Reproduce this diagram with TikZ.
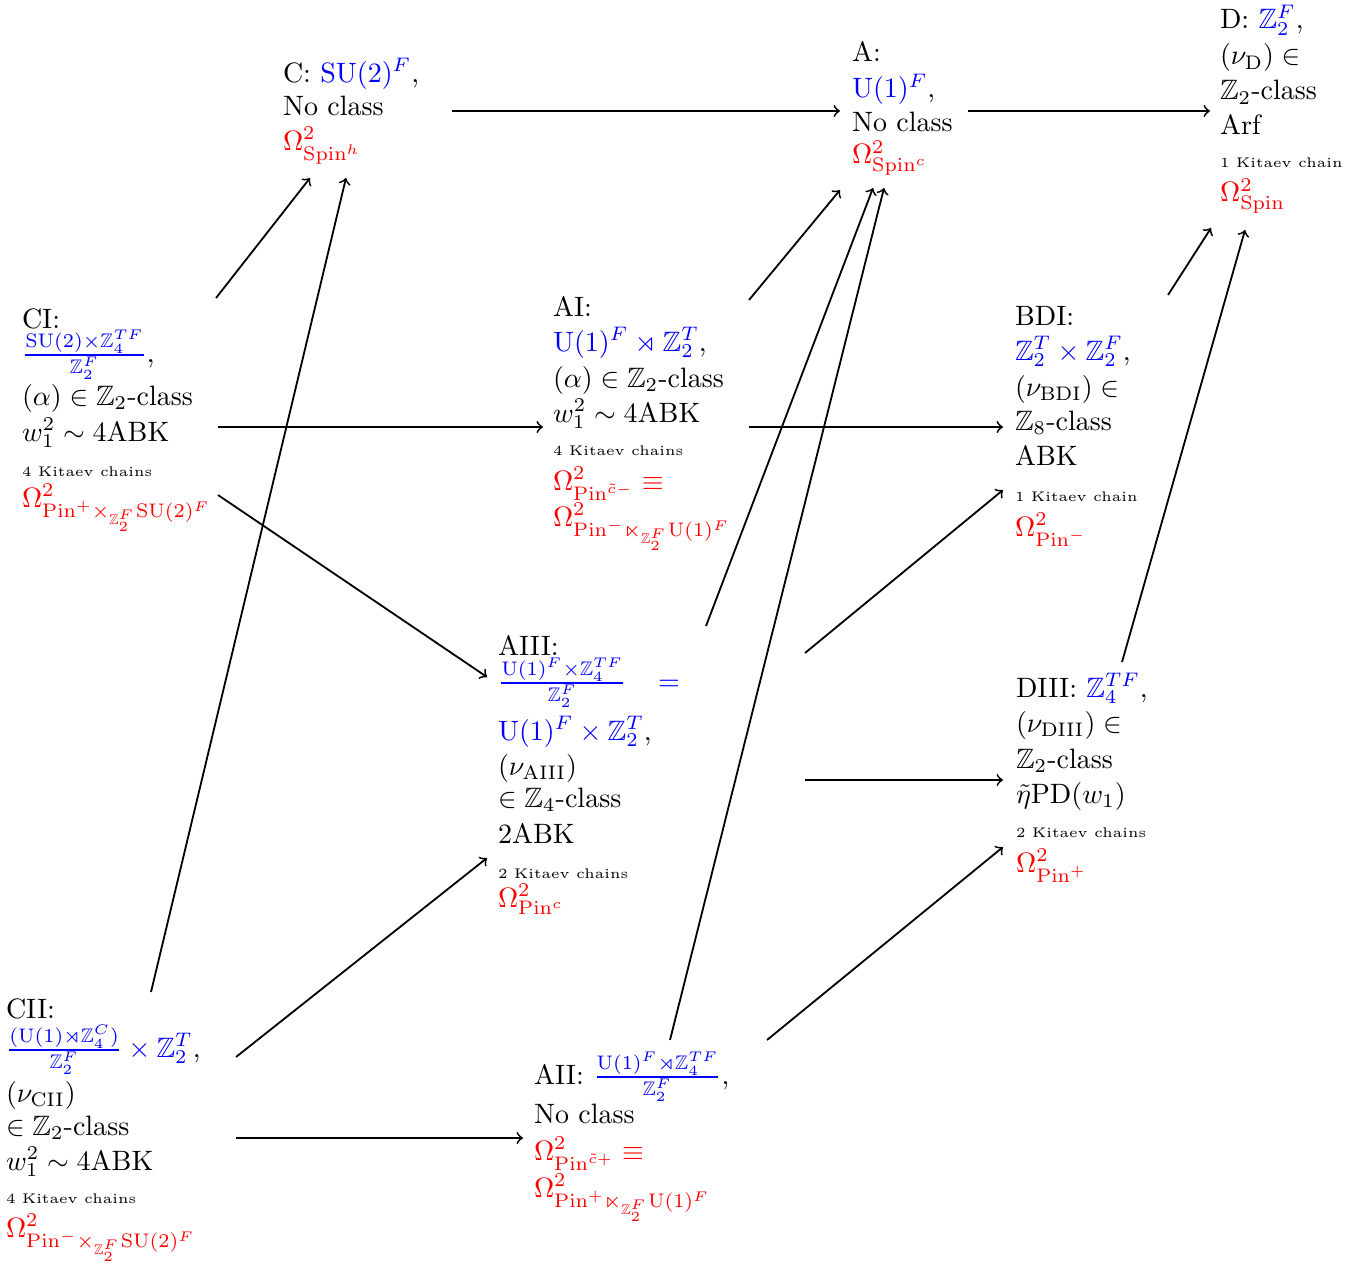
\documentclass[tikz,border=0pt]{standalone}
\usepackage{amsmath,amssymb}
\newdimen\px \px=0.357pt
\newcommand\cls[2]{\vtop{\baselineskip=0pt\lineskiplimit=-\maxdimen\lineskip=0pt\hbox{#1}#2}}
\newcommand\Ln[2]{\vskip#1\px\hbox{#2}}
\newcommand\bl[1]{\textcolor{blue}{#1}}
\newcommand\rd[1]{\textcolor{red}{#1}}
\tikzset{
  cls/.style={anchor=base west, inner sep=0pt, outer sep=0pt},
  arr/.style={->, line width=0.65pt}
}
\begin{document}
\begin{tikzpicture}[x=0.357pt, y=-0.357pt]
\useasboundingbox (0,0) rectangle (1368,1272);

% ---- class nodes ----
\node[cls] (C) at (283,82) {\cls{C: \bl{$\mathrm{SU}(2)^F$},}{%
  \Ln{34}{No class}%
  \Ln{34}{\rd{$\Omega^2_{\mathrm{Spin}^h}$}}}};

\node[cls] (A) at (852,62) {\cls{A:}{%
  \Ln{36}{\bl{$\mathrm{U}(1)^F$},}%
  \Ln{34}{No class}%
  \Ln{32}{\rd{$\Omega^2_{\mathrm{Spin}^c}$}}}};

\node[cls] (D) at (1220,29) {\cls{D: \bl{$\mathbb{Z}_2^F$},}{%
  \Ln{36}{$(\nu_{\mathrm{D}})\in$}%
  \Ln{35}{$\mathbb{Z}_2$-class}%
  \Ln{35}{Arf}%
  \Ln{33}{\tiny 1 Kitaev chain}%
  \Ln{34}{\rd{$\Omega^2_{\mathrm{Spin}}$}}}};

\node[cls] (CI) at (22,328) {\cls{CI:}{%
  \Ln{34}{\bl{$\frac{\mathrm{SU}(2)\times\mathbb{Z}_4^{TF}}{\mathbb{Z}_2^F}$},}%
  \Ln{43}{$(\alpha)\in\mathbb{Z}_2$-class}%
  \Ln{36}{$w_1^2\sim 4\mathrm{ABK}$}%
  \Ln{35}{\tiny 4 Kitaev chains}%
  \Ln{31}{\rd{$\Omega^2_{\mathrm{Pin}^+\times_{\mathbb{Z}_2^F}\mathrm{SU}(2)^F}$}}}};

\node[cls] (AI) at (553,316) {\cls{AI:}{%
  \Ln{35}{\bl{$\mathrm{U}(1)^F\rtimes\mathbb{Z}_2^T$},}%
  \Ln{36}{$(\alpha)\in\mathbb{Z}_2$-class}%
  \Ln{35}{$w_1^2\sim 4\mathrm{ABK}$}%
  \Ln{33}{\tiny 4 Kitaev chains}%
  \Ln{35}{\rd{$\Omega^2_{\mathrm{Pin}^{\tilde c-}}\equiv$}}%
  \Ln{36}{\rd{$\Omega^2_{\mathrm{Pin}^-\ltimes_{\mathbb{Z}_2^F}\mathrm{U}(1)^F}$}}}};

\node[cls] (BDI) at (1015,325) {\cls{BDI:}{%
  \Ln{35}{\bl{$\mathbb{Z}_2^T\times\mathbb{Z}_2^F$},}%
  \Ln{36}{$(\nu_{\mathrm{BDI}})\in$}%
  \Ln{34}{$\mathbb{Z}_8$-class}%
  \Ln{35}{ABK}%
  \Ln{36}{\tiny 1 Kitaev chain}%
  \Ln{35}{\rd{$\Omega^2_{\mathrm{Pin}^-}$}}}};

\node[cls] (AIII) at (498,655) {\cls{AIII:}{%
  \Ln{35}{\hbox to 182\px{\bl{$\frac{\mathrm{U}(1)^F\times\mathbb{Z}_4^{TF}}{\mathbb{Z}_2^F}$}\hfill\bl{$=$}}}%
  \Ln{50}{\bl{$\mathrm{U}(1)^F\times\mathbb{Z}_2^T$},}%
  \Ln{35}{$(\nu_{\mathrm{AIII}})$}%
  \Ln{32}{$\in\mathbb{Z}_4$-class}%
  \Ln{36}{2ABK}%
  \Ln{35}{\tiny 2 Kitaev chains}%
  \Ln{29}{\rd{$\Omega^2_{\mathrm{Pin}^c}$}}}};

\node[cls] (DIII) at (1016,697) {\cls{DIII: \bl{$\mathbb{Z}_4^{TF}$},}{%
  \Ln{35}{$(\nu_{\mathrm{DIII}})\in$}%
  \Ln{36}{$\mathbb{Z}_2$-class}%
  \Ln{35}{$\tilde\eta\mathrm{PD}(w_1)$}%
  \Ln{34}{\tiny 2 Kitaev chains}%
  \Ln{35}{\rd{$\Omega^2_{\mathrm{Pin}^+}$}}}};

\node[cls] (CII) at (6,1018) {\cls{CII:}{%
  \Ln{39}{\bl{$\frac{(\mathrm{U}(1)\rtimes\mathbb{Z}_4^C)}{\mathbb{Z}_2^F}\times\mathbb{Z}_2^T$},}%
  \Ln{45}{$(\nu_{\mathrm{CII}})$}%
  \Ln{33}{$\in\mathbb{Z}_2$-class}%
  \Ln{35}{$w_1^2\sim 4\mathrm{ABK}$}%
  \Ln{33}{\tiny 4 Kitaev chains}%
  \Ln{34}{\rd{$\Omega^2_{\mathrm{Pin}^-\times_{\mathbb{Z}_2^F}\mathrm{SU}(2)^F}$}}}};

\node[cls] (AII) at (534,1084) {\cls{AII: \bl{$\frac{\mathrm{U}(1)^F\rtimes\mathbb{Z}_4^{TF}}{\mathbb{Z}_2^F}$},}{%
  \Ln{39}{No class}%
  \Ln{37}{\rd{$\Omega^2_{\mathrm{Pin}^{\tilde c+}}\equiv$}}%
  \Ln{37}{\rd{$\Omega^2_{\mathrm{Pin}^+\ltimes_{\mathbb{Z}_2^F}\mathrm{U}(1)^F}$}}}};

% ---- connector end points ----
\coordinate (C-A-s) at (452,111);   \coordinate (C-A-t) at (840,111);
\coordinate (A-D-s) at (968,111);   \coordinate (A-D-t) at (1210,111);
\coordinate (CI-C-s) at (216,298);  \coordinate (CI-C-t) at (310,178);
\coordinate (CII-C-s) at (151,992); \coordinate (CII-C-t) at (346,178);
\coordinate (AI-A-s) at (749,300);  \coordinate (AI-A-t) at (840,190);
\coordinate (AIII-A-s) at (706,626); \coordinate (AIII-A-t) at (873,188);
\coordinate (AII-A-s) at (670,1040); \coordinate (AII-A-t) at (884,188);
\coordinate (BDI-D-s) at (1168,295); \coordinate (BDI-D-t) at (1211,228);
\coordinate (DIII-D-s) at (1122,662); \coordinate (DIII-D-t) at (1245,230);
\coordinate (CI-AI-s) at (218,427);  \coordinate (CI-AI-t) at (543,427);
\coordinate (AI-BDI-s) at (749,427); \coordinate (AI-BDI-t) at (1003,427);
\coordinate (CI-AIII-s) at (218,495); \coordinate (CI-AIII-t) at (487,677);
\coordinate (AIII-BDI-s) at (805,653); \coordinate (AIII-BDI-t) at (1003,490);
\coordinate (AIII-DIII-s) at (805,780); \coordinate (AIII-DIII-t) at (1003,780);
\coordinate (CII-AIII-s) at (236,1057); \coordinate (CII-AIII-t) at (487,858);
\coordinate (CII-AII-s) at (236,1138); \coordinate (CII-AII-t) at (523,1138);
\coordinate (AII-DIII-s) at (767,1040); \coordinate (AII-DIII-t) at (1003,847);

% ---- connectors ----
\foreach \e in {C-A,A-D,CI-C,CII-C,AI-A,AIII-A,AII-A,BDI-D,DIII-D,CI-AI,AI-BDI,CI-AIII,AIII-BDI,AIII-DIII,CII-AIII,CII-AII,AII-DIII}
  \draw[arr] (\e-s) -- (\e-t);
\end{tikzpicture}
\end{document}
